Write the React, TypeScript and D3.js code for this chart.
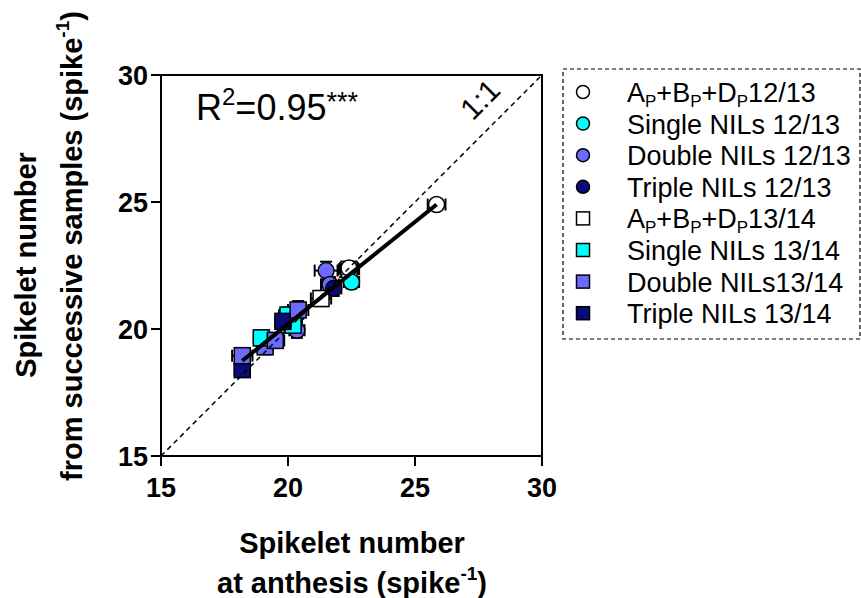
import React from 'react';
import * as d3 from 'd3';

// legend groups
const groupLabels = [
  ['A', 'P', '+B', 'P', '+D', 'P', '12/13'],
  ['Single NILs 12/13'],
  ['Double NILs 12/13'],
  ['Triple NILs 12/13'],
  ['A', 'P', '+B', 'P', '+D', 'P', '13/14'],
  ['Single NILs 13/14'],
  ['Double NILs13/14'],
  ['Triple NILs 13/14'],
];
const groupShapes = ['circle', 'circle', 'circle', 'circle', 'square', 'square', 'square', 'square'];
const groupColors = ['#ffffff', '#00ffff', '#6b6bff', '#0a0a78', '#ffffff', '#00ffff', '#6b6bff', '#0a0a78'];

// points (drawn in this order)
const pointGroup = [4, 7, 6, 6, 5, 6, 5, 2, 5, 7, 6, 4, 0, 2, 2, 3, 1, 0];
const pointX = [21.3, 18.2, 18.2, 19.1, 18.95, 19.5, 20.0, 20.35, 20.2, 19.8, 20.4, 22.4, 22.4, 21.5, 21.65, 21.8, 22.5, 25.85];
const pointY = [21.2, 18.4, 18.95, 19.3, 19.65, 19.55, 20.55, 19.95, 20.15, 20.3, 20.75, 22.35, 22.4, 22.3, 21.75, 21.6, 21.85, 24.9];
const pointXErr = [0.4, 0.3, 0.4, 0.3, 0.3, 0.35, 0.35, 0.3, 0.35, 0.3, 0.4, 0.4, 0.35, 0.45, 0.35, 0.3, 0.3, 0.35];
const pointYErr = [0.3, 0.25, 0.3, 0.3, 0.3, 0.25, 0.3, 0.3, 0.3, 0.3, 0.35, 0.2, 0.2, 0.35, 0.3, 0.3, 0.25, 0.1];

// fitted line
const fitX = [18.2, 25.85];
const fitY = [18.75, 24.9];

const ticks = [15, 20, 25, 30];

const font = '"Liberation Sans", Arial, sans-serif';

function Marker({ shape, color, cx, cy, size }: any) {
  if (shape === 'circle') {
    return <circle cx={cx} cy={cy} r={size} fill={color} stroke="#000" strokeWidth={1.5} />;
  }
  return <rect x={cx - size} y={cy - size} width={size * 2} height={size * 2} fill={color} stroke="#000" strokeWidth={1.5} />;
}

function LegendText({ parts, x, y }: any) {
  return (
    <text x={x} y={y} fontSize={27} fontFamily={font}>
      {parts.length === 1
        ? parts[0]
        : parts.map((p: string, i: number) =>
            i % 2 === 1 && i < parts.length - 1 ? (
              <tspan key={i} fontSize={17} dy={5}>{p}</tspan>
            ) : (
              <tspan key={i} dy={i > 0 ? -5 : 0}>{p}</tspan>
            )
          )}
    </text>
  );
}

export default function App() {
  const x = d3.scaleLinear().domain([15, 30]).range([161, 542]);
  const y = d3.scaleLinear().domain([15, 30]).range([456, 75]);
  const cap = 6;

  const fitLine = d3.line<number>()
    .x((d, i) => x(fitX[i]))
    .y((d, i) => y(fitY[i]));

  return (
    <svg width={861} height={598} style={{ position: 'absolute', left: 0, top: 0, background: '#fff' }} fontFamily={font}>
      {/* error bars */}
      {pointX.map((px, i) => {
        const cx = x(px), cy = y(pointY[i]);
        const x0 = x(px - pointXErr[i]), x1 = x(px + pointXErr[i]);
        const y0 = y(pointY[i] - pointYErr[i]), y1 = y(pointY[i] + pointYErr[i]);
        return (
          <g key={'e' + i} stroke="#000" strokeWidth={2}>
            <line x1={x0} y1={cy} x2={x1} y2={cy} />
            <line x1={x0} y1={cy - cap} x2={x0} y2={cy + cap} />
            <line x1={x1} y1={cy - cap} x2={x1} y2={cy + cap} />
            <line x1={cx} y1={y0} x2={cx} y2={y1} />
            <line x1={cx - cap} y1={y0} x2={cx + cap} y2={y0} />
            <line x1={cx - cap} y1={y1} x2={cx + cap} y2={y1} />
          </g>
        );
      })}

      {/* markers */}
      {pointX.map((px, i) => (
        <Marker key={'m' + i} shape={groupShapes[pointGroup[i]]} color={groupColors[pointGroup[i]]}
          cx={x(px)} cy={y(pointY[i])} size={8} />
      ))}

      {/* 1:1 line */}
      <line x1={x(15)} y1={y(15)} x2={x(30)} y2={y(30)} stroke="#000" strokeWidth={1.5} strokeDasharray="5,4" />
      <text transform={`translate(${x(27.85)},${y(28.75)}) rotate(-45)`} fontSize={30} textAnchor="middle">1:1</text>

      {/* regression */}
      <path d={fitLine(fitX) || ''} fill="none" stroke="#000" strokeWidth={4} />

      {/* frame */}
      <rect x={x(15)} y={y(30)} width={x(30) - x(15)} height={y(15) - y(30)} fill="none" stroke="#000" strokeWidth={2} />

      {/* x axis */}
      {ticks.map(t => (
        <g key={'xt' + t}>
          <line x1={x(t)} x2={x(t)} y1={y(15)} y2={y(15) + 10} stroke="#000" strokeWidth={2} />
          <text x={x(t)} y={y(15) + 41} fontSize={27} fontWeight="bold" textAnchor="middle">{t}</text>
        </g>
      ))}
      {/* y axis */}
      {ticks.map(t => (
        <g key={'yt' + t}>
          <line x1={x(15) - 10} x2={x(15)} y1={y(t)} y2={y(t)} stroke="#000" strokeWidth={2} />
          <text x={x(15) - 13} y={y(t) + 10} fontSize={27} fontWeight="bold" textAnchor="end">{t}</text>
        </g>
      ))}

      {/* axis titles */}
      <text x={352} y={553} fontSize={29} fontWeight="bold" textAnchor="middle">Spikelet number</text>
      <text x={352} y={593} fontSize={29} fontWeight="bold" textAnchor="middle">
        at anthesis (spike<tspan fontSize={19} dy={-13}>-1</tspan><tspan dy={13}>)</tspan>
      </text>
      <text transform="translate(36,265) rotate(-90)" fontSize={29} fontWeight="bold" textAnchor="middle">Spikelet number</text>
      <text transform="translate(82,246) rotate(-90)" fontSize={29} fontWeight="bold" textAnchor="middle">
        from successive samples (spike<tspan fontSize={19} dy={-13}>-1</tspan><tspan dy={13}>)</tspan>
      </text>

      {/* R2 */}
      <text x={196} y={120} fontSize={36}>
        R<tspan fontSize={24} dy={-15}>2</tspan><tspan dy={15}>=0.95</tspan><tspan fontSize={27} dy={-9}>***</tspan>
      </text>

      {/* legend */}
      <rect x={563} y={69} width={297} height={270} fill="none" stroke="#000" strokeWidth={1.2} strokeDasharray="4,3" />
      {groupLabels.map((parts, i) => {
        const ly = 92 + i * 31.6;
        return (
          <g key={'l' + i}>
            <Marker shape={groupShapes[i]} color={groupColors[i]} cx={583} cy={ly} size={6.5} />
            <LegendText parts={parts} x={627} y={ly + 10} />
          </g>
        );
      })}
    </svg>
  );
}
